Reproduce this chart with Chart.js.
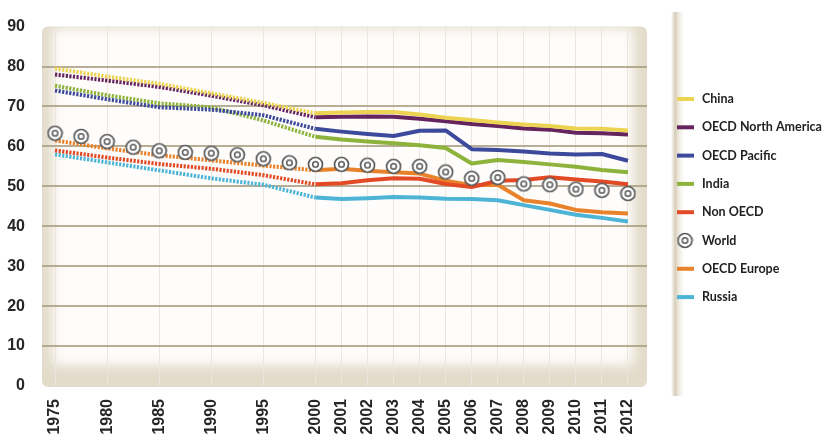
<!DOCTYPE html>
<html>
<head>
<meta charset="utf-8">
<script src="https://cdn.jsdelivr.net/npm/chart.js@4.4.1/dist/chart.umd.min.js"></script>
<style>
  html, body { margin: 0; padding: 0; background: #fff; }
  #wrap { width: 830px; height: 443px; }
</style>
</head>
<body>
<div id="wrap"><canvas id="chart"></canvas></div>
<script>
// categories: 1975-2000 every 2.5 years (only the 5-year ones get a label), then yearly
const yearLabels = ['1975', '', '1980', '', '1985', '', '1990', '', '1995', '', '2000',
  '2001', '2002', '2003', '2004', '2005', '2006', '2007', '2008', '2009', '2010', '2011', '2012'];

const china       = [79.5, null, 77.5, null, 75.7, null, 73.3, null, 70.9, null, 68.3,
  68.5, 68.6, 68.6, 68.0, 67.2, 66.6, 66.0, 65.5, 65.1, 64.5, 64.4, 64.0];
const oecdNA      = [78.0, null, 76.5, null, 74.9, null, 72.7, null, 70.3, null, 67.3,
  67.4, 67.5, 67.4, 66.9, 66.3, 65.6, 65.1, 64.5, 64.2, 63.4, 63.3, 63.0];
const oecdPacific = [74.0, null, 71.8, null, 69.8, null, 69.2, null, 67.8, null, 64.4,
  63.7, 63.1, 62.6, 63.9, 64.0, 59.3, 59.1, 58.7, 58.2, 58.0, 58.1, 56.4];
const india       = [75.2, null, 72.8, null, 70.8, null, 69.8, null, 66.5, null, 62.4,
  61.7, 61.2, 60.8, 60.3, 59.6, 55.7, 56.6, 56.1, 55.5, 54.9, 54.1, 53.5];
const nonOECD     = [59.0, null, 57.2, null, 55.6, null, 54.4, null, 52.8, null, 50.5,
  50.8, 51.5, 52.0, 51.9, 50.6, 49.8, 51.4, 51.6, 52.3, 51.7, 51.2, 50.5];
const world       = [63.3, 62.5, 61.2, 59.8, 58.9, 58.5, 58.3, 57.9, 56.9, 55.9, 55.5,
  55.5, 55.3, 55.0, 55.0, 53.6, 52.0, 52.2, 50.6, 50.4, 49.3, 49.0, 48.2];
const oecdEurope  = [61.5, null, 59.5, null, 57.8, null, 56.5, null, 55.2, null, 54.0,
  54.4, 53.9, 53.5, 53.2, 51.4, 50.3, 50.4, 46.5, 45.7, 44.1, 43.5, 43.2];
const russia      = [58.0, null, 56.0, null, 54.0, null, 52.0, null, 50.4, null, 47.2,
  46.8, 47.0, 47.3, 47.2, 46.9, 46.8, 46.5, 45.3, 44.1, 42.9, 42.1, 41.2];

const yTicks = [0, 10, 20, 30, 40, 50, 60, 70, 80, 90];
const lastDottedIndex = 10; // up to 2000 the lines are dotted

// the "World" marker: a ring with a small ring inside
function makeWorldMarker() {
  const c = document.createElement('canvas');
  c.width = 17; c.height = 17;
  const g = c.getContext('2d');
  g.fillStyle = '#ffffff';
  g.strokeStyle = '#5a5a5a';
  g.lineWidth = 1.7;
  g.beginPath(); g.arc(8.5, 8.5, 7, 0, Math.PI * 2); g.fill(); g.stroke();
  g.lineWidth = 1.5;
  g.beginPath(); g.arc(8.5, 8.5, 2.8, 0, Math.PI * 2); g.stroke();
  return c;
}
const worldMarker = makeWorldMarker();

function lineSet(label, data, color) {
  return {
    label: label,
    data: data,
    borderColor: color,
    backgroundColor: color,
    borderWidth: 4,
    pointRadius: 0,
    pointHoverRadius: 0,
    spanGaps: true,
    tension: 0,
    borderJoinStyle: 'round',
    segment: {
      borderDash: ctx => ctx.p1DataIndex <= lastDottedIndex ? [2.2, 1.4] : undefined
    }
  };
}

const datasets = [
  lineSet('China', china, '#ecd452'),
  lineSet('OECD North America', oecdNA, '#66245f'),
  lineSet('OECD Pacific', oecdPacific, '#3d4a9c'),
  lineSet('India', india, '#8db33d'),
  lineSet('Non OECD', nonOECD, '#e24a25'),
  {
    label: 'World',
    data: world,
    showLine: false,
    pointStyle: worldMarker,
    pointRadius: 8,
    borderColor: '#555555',
    backgroundColor: '#ffffff',
    order: -1
  },
  lineSet('OECD Europe', oecdEurope, '#e8832b'),
  lineSet('Russia', russia, '#4db4d6')
];

const panelRight = 647;

const panelPlugin = {
  id: 'panel',
  beforeDraw(chart) {
    const ctx = chart.ctx;
    const a = chart.chartArea;
    const x0 = a.left, y0 = a.top, w = panelRight - a.left, h = a.bottom - a.top + 1;
    ctx.save();
    ctx.beginPath();
    ctx.roundRect(x0, y0, w, h, 6);
    ctx.fillStyle = '#e3dccb';
    ctx.fill();
    ctx.clip();
    ctx.filter = 'blur(6px)';
    ctx.fillStyle = '#fefdfb';
    ctx.fillRect(x0 + 11, y0 + 2, w - 25, h - 24);
    ctx.restore();

    // separator bar between the plot and the legend
    ctx.save();
    const gx = 671;
    const grad = ctx.createLinearGradient(gx, 0, gx + 14, 0);
    grad.addColorStop(0, 'rgba(210,199,176,0)');
    grad.addColorStop(0.3, 'rgba(210,199,176,0.9)');
    grad.addColorStop(0.6, 'rgba(228,220,204,0.5)');
    grad.addColorStop(1, 'rgba(238,232,220,0)');
    ctx.fillStyle = grad;
    ctx.fillRect(gx, 12, 14, 384);
    ctx.restore();
  },
  beforeDatasetsDraw(chart) {
    const ctx = chart.ctx;
    const y = chart.scales.y;
    ctx.save();
    ctx.strokeStyle = 'rgba(170,160,130,0.85)';
    ctx.lineWidth = 2;
    y.ticks.forEach(t => {
      if (t.value <= 0 || t.value >= 90) return;
      const py = Math.round(y.getPixelForValue(t.value));
      ctx.beginPath();
      ctx.moveTo(chart.chartArea.left, py);
      ctx.lineTo(panelRight, py);
      ctx.stroke();
    });
    ctx.restore();
  },
  afterDraw(chart) {
    const ctx = chart.ctx;
    ctx.save();
    ctx.font = 'bold 12.5px Lato';
    ctx.textBaseline = 'middle';
    ctx.fillStyle = '#222222';
    chart.data.datasets.forEach((ds, i) => {
      const ly = 99 + i * 28.3;
      if (ds.label === 'World') {
        ctx.drawImage(worldMarker, 685 - 8.5, ly - 8.5);
      } else {
        ctx.strokeStyle = ds.borderColor;
        ctx.lineWidth = 4;
        ctx.beginPath();
        ctx.moveTo(677, ly);
        ctx.lineTo(694, ly);
        ctx.stroke();
      }
      ctx.fillText(ds.label, 702, ly);
    });
    ctx.restore();
  }
};

new Chart(document.getElementById('chart'), {
  type: 'line',
  data: { labels: yearLabels, datasets: datasets },
  options: {
    responsive: true,
    maintainAspectRatio: false,
    animation: false,
    devicePixelRatio: 1,
    layout: { padding: { top: 10, right: 189, bottom: 0, left: 0 } },
    plugins: {
      legend: { display: false },
      tooltip: { enabled: false }
    },
    scales: {
      x: {
        offset: true,
        grid: {
          offset: false,
          drawTicks: false,
          lineWidth: 1,
          color: ctx => (ctx.tick && ctx.tick.label) ? '#ebe6de' : 'rgba(0,0,0,0)'
        },
        border: { display: false },
        ticks: {
          autoSkip: false,
          minRotation: 90,
          maxRotation: 90,
          padding: 13,
          color: '#262626',
          font: { family: 'Liberation Sans', weight: 'bold', size: 16 }
        },
        afterFit: s => { s.height = 57; }
      },
      y: {
        min: 0,
        max: 90,
        afterBuildTicks: s => { s.ticks = yTicks.map(v => ({ value: v })); },
        grid: { display: false, drawTicks: false },
        border: { display: false },
        ticks: {
          padding: 17,
          color: '#262626',
          font: { family: 'Liberation Sans', weight: 'bold', size: 16 }
        },
        afterFit: s => { s.width = 42; }
      }
    }
  },
  plugins: [panelPlugin]
});
</script>
</body>
</html>
